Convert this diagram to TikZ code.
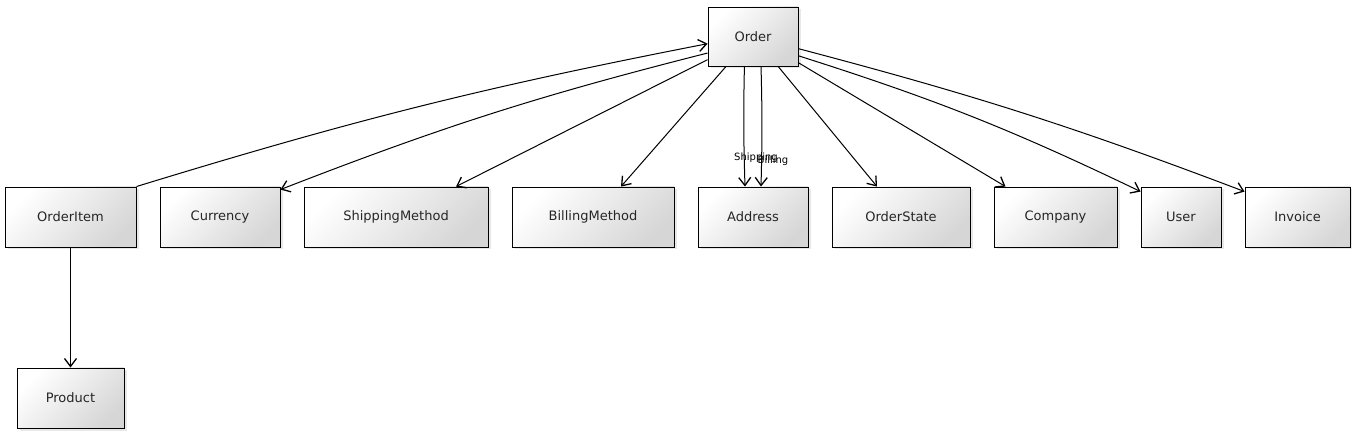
\documentclass[tikz,border=0pt]{standalone}
\usepackage{fontspec}
\setmainfont{DejaVu Sans}
\usetikzlibrary{arrows.meta,shadows}

\tikzset{entite/.style = {draw, line width=0.9pt, minimum width = #1, minimum height = 60pt,
                          top color=white, bottom color=black!16, shading angle=45,
                          drop shadow={opacity=.18, shadow xshift=2.5pt, shadow yshift=-2.5pt},
                          font=\fontsize{13}{15}\selectfont, text=black!85},
         entite/.default=100pt,
         lien/.style = {-{Straight Barb[length=8pt,width=12pt,line width=1.3pt]}, line width=1pt}
        }

\begin{document}
\begin{tikzpicture}[x=1pt,y=-1pt]
  \tikzstyle{etiquette}=[font=\fontsize{10}{12}\selectfont, inner sep=0pt]
  \useasboundingbox (0,0) rectangle (1352,435);
  % boites
  \node[entite=90pt, minimum height=59pt] (order) at (753,36.5) {Order};
  \node[entite=131pt] (item)     at (70.5,217)  {OrderItem};
  \node[entite=120pt] (currency) at (220,217)   {Currency};
  \node[entite=184pt] (shipm)    at (396,217)   {ShippingMethod};
  \node[entite=162pt] (billm)    at (593,217)   {BillingMethod};
  \node[entite=110pt] (address)  at (753,217)   {Address};
  \node[entite=138pt] (state)    at (901,217)   {OrderState};
  \node[entite=123pt] (company)  at (1055.5,217) {Company};
  \node[entite=80pt]  (user)     at (1181,217)  {User};
  \node[entite=105pt] (invoice)  at (1297.5,217) {Invoice};
  \node[entite=107pt] (product)  at (70.5,398)  {Product};
  % liens
  \draw[lien] (item.north east) to[bend left=3] (order.189.5);
  \draw[lien] (order.200) to[bend right=3.5] ([yshift=-3pt]currency.north east);
  \draw[lien] (order.207.6) -- ([xshift=60pt]shipm.north);
  \draw[lien] (order.228.6) -- ([xshift=28pt]billm.north);
  \draw[lien] (order.254.8) to[bend right=1.5] ([xshift=-8pt]address.north);
  \draw[lien] (order.285.2) to[bend left=1.5] ([xshift=8pt]address.north);
  \draw[lien] (order.310.3) -- ([xshift=-24pt]state.north);
  \draw[lien] (order.330.5) -- ([xshift=-50pt]company.north);
  \draw[lien] (order.337.6) to[bend left=4] ([yshift=-5pt]user.north west);
  \draw[lien] (order.345.7) to[bend left=3] ([yshift=-5pt]invoice.north west);
  \draw[lien] (item) -- (product);
  % etiquettes
  \node[etiquette] (lblship) at (756,158) {Shipping};
  \node[etiquette] (lblbill) at (773,161) {Billing};
\end{tikzpicture}
\end{document}
